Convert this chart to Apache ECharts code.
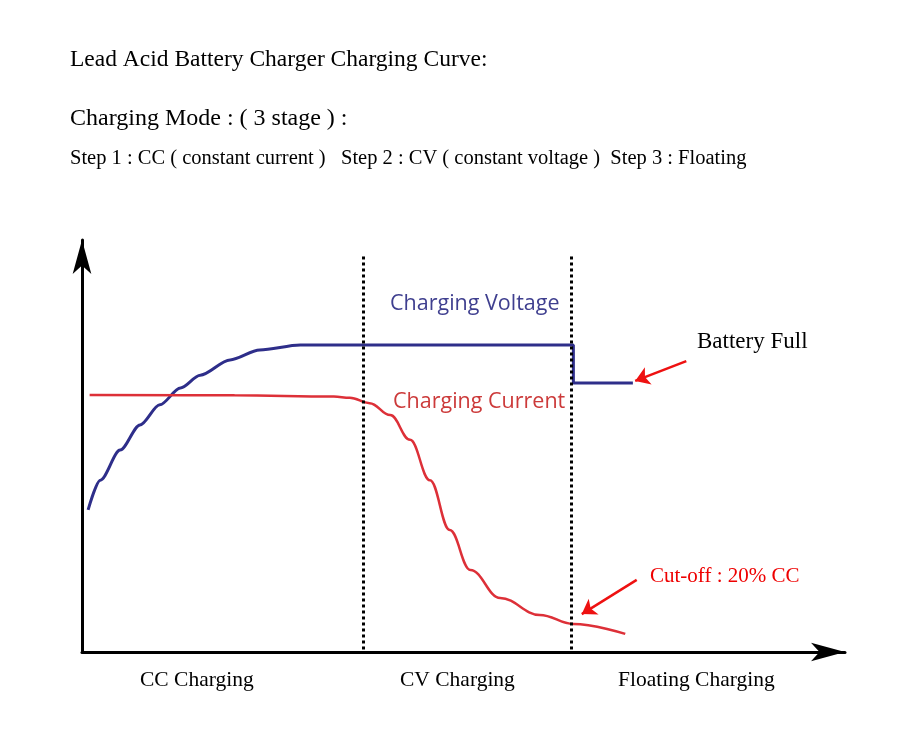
<!DOCTYPE html>
<html><head><meta charset="utf-8">
<script src="https://cdn.jsdelivr.net/npm/echarts@6/dist/echarts.min.js"></script>
<style>html,body{margin:0;background:#fff}#c{width:900px;height:740px}</style>
</head><body><div id="c"></div>
<script>
const voltage = [[0.8,34.5],[2.4,41.7],[5,49],[7.6,55.1],[10.2,60],[12.9,64.1],[15.5,67.2],[19.4,70.9],[23.3,73.3],[28.6,74.5],[64.4,74.5],[64.4,65.3],[72.2,65.3]];
const current = [[1,62.4],[20,62.3],[33,62],[35.1,61.7],[37.7,60.4],[40.4,57.5],[43,51.5],[45.6,41.7],[48.2,29.6],[50.9,19.9],[54.8,13.1],[60,9],[64.4,6.8],[71.2,4.4]];
const stageBounds = [36.8, 64.1];
const stageLabels = ['CC Charging','CV Charging','Floating Charging'];
const arrows = [[[79.2,70.6],[72.5,65.8]],[[72.7,17.5],[65.5,9.2]]];
const serif = '"Liberation Serif", "DejaVu Serif", serif';
const chart = echarts.init(document.getElementById('c'));
chart.setOption({
  animation:false,
  grid:{left:82,right:55,top:240,bottom:88},
  xAxis:{type:'value',min:0,max:100,axisLabel:{show:false},axisTick:{show:false},splitLine:{show:false},
    axisLine:{lineStyle:{color:'#000',width:3},symbol:['none','arrow'],symbolSize:[14,34]}},
  yAxis:{type:'value',min:0,max:100,axisLabel:{show:false},axisTick:{show:false},splitLine:{show:false},
    axisLine:{show:true,lineStyle:{color:'#000',width:3},symbol:['none','arrow'],symbolSize:[14,34]}},
  series:[
    {type:'line',data:voltage,smooth:0.3,smoothMonotone:'x',showSymbol:false,lineStyle:{color:'#2e2e8a',width:3},
     markLine:{silent:true,symbol:['none','none'],label:{show:false},
       lineStyle:{color:'#000',type:'dotted',width:3},
       data:stageBounds.map(v=>[{coord:[v,96]},{coord:[v,0]}])}},
    {type:'line',data:current,smooth:0.4,smoothMonotone:'x',showSymbol:false,lineStyle:{color:'#dd3038',width:2.5},
     markLine:{silent:true,symbol:['none','arrow'],symbolSize:14,label:{show:false},
       lineStyle:{color:'#ee1111',type:'solid',width:2.5},
       data:arrows.map(a=>[{coord:a[0]},{coord:a[1]}])}}
  ],
  graphic:[
    {type:'text',left:70,top:48,style:{text:'Lead Acid Battery Charger Charging Curve:',font:'23.5px '+serif,fill:'#000'}},
    {type:'text',left:70,top:107,style:{text:'Charging Mode : ( 3 stage ) :',font:'24px '+serif,fill:'#000'}},
    {type:'text',left:70,top:148,style:{text:'Step 1 : CC ( constant current )   Step 2 : CV ( constant voltage )  Step 3 : Floating',font:'20.5px '+serif,fill:'#000'}},
    {type:'text',left:390,top:293,style:{text:'Charging Voltage',font:'21.5px "Open Sans", sans-serif',fill:'#3f3f8f'}},
    {type:'text',left:393,top:391,style:{text:'Charging Current',font:'21.5px "Open Sans", sans-serif',fill:'#cc3a3a'}},
    {type:'text',left:697,top:330,style:{text:'Battery Full',font:'23px '+serif,fill:'#000'}},
    {type:'text',left:650,top:566,style:{text:'Cut-off : 20% CC',font:'21px '+serif,fill:'#ee0000'}},
    {type:'text',left:140,top:669,style:{text:stageLabels[0],font:'21.5px '+serif,fill:'#000'}},
    {type:'text',left:400,top:669,style:{text:stageLabels[1],font:'21.5px '+serif,fill:'#000'}},
    {type:'text',left:618,top:669,style:{text:stageLabels[2],font:'21.5px '+serif,fill:'#000'}}
  ]
});
</script></body></html>
